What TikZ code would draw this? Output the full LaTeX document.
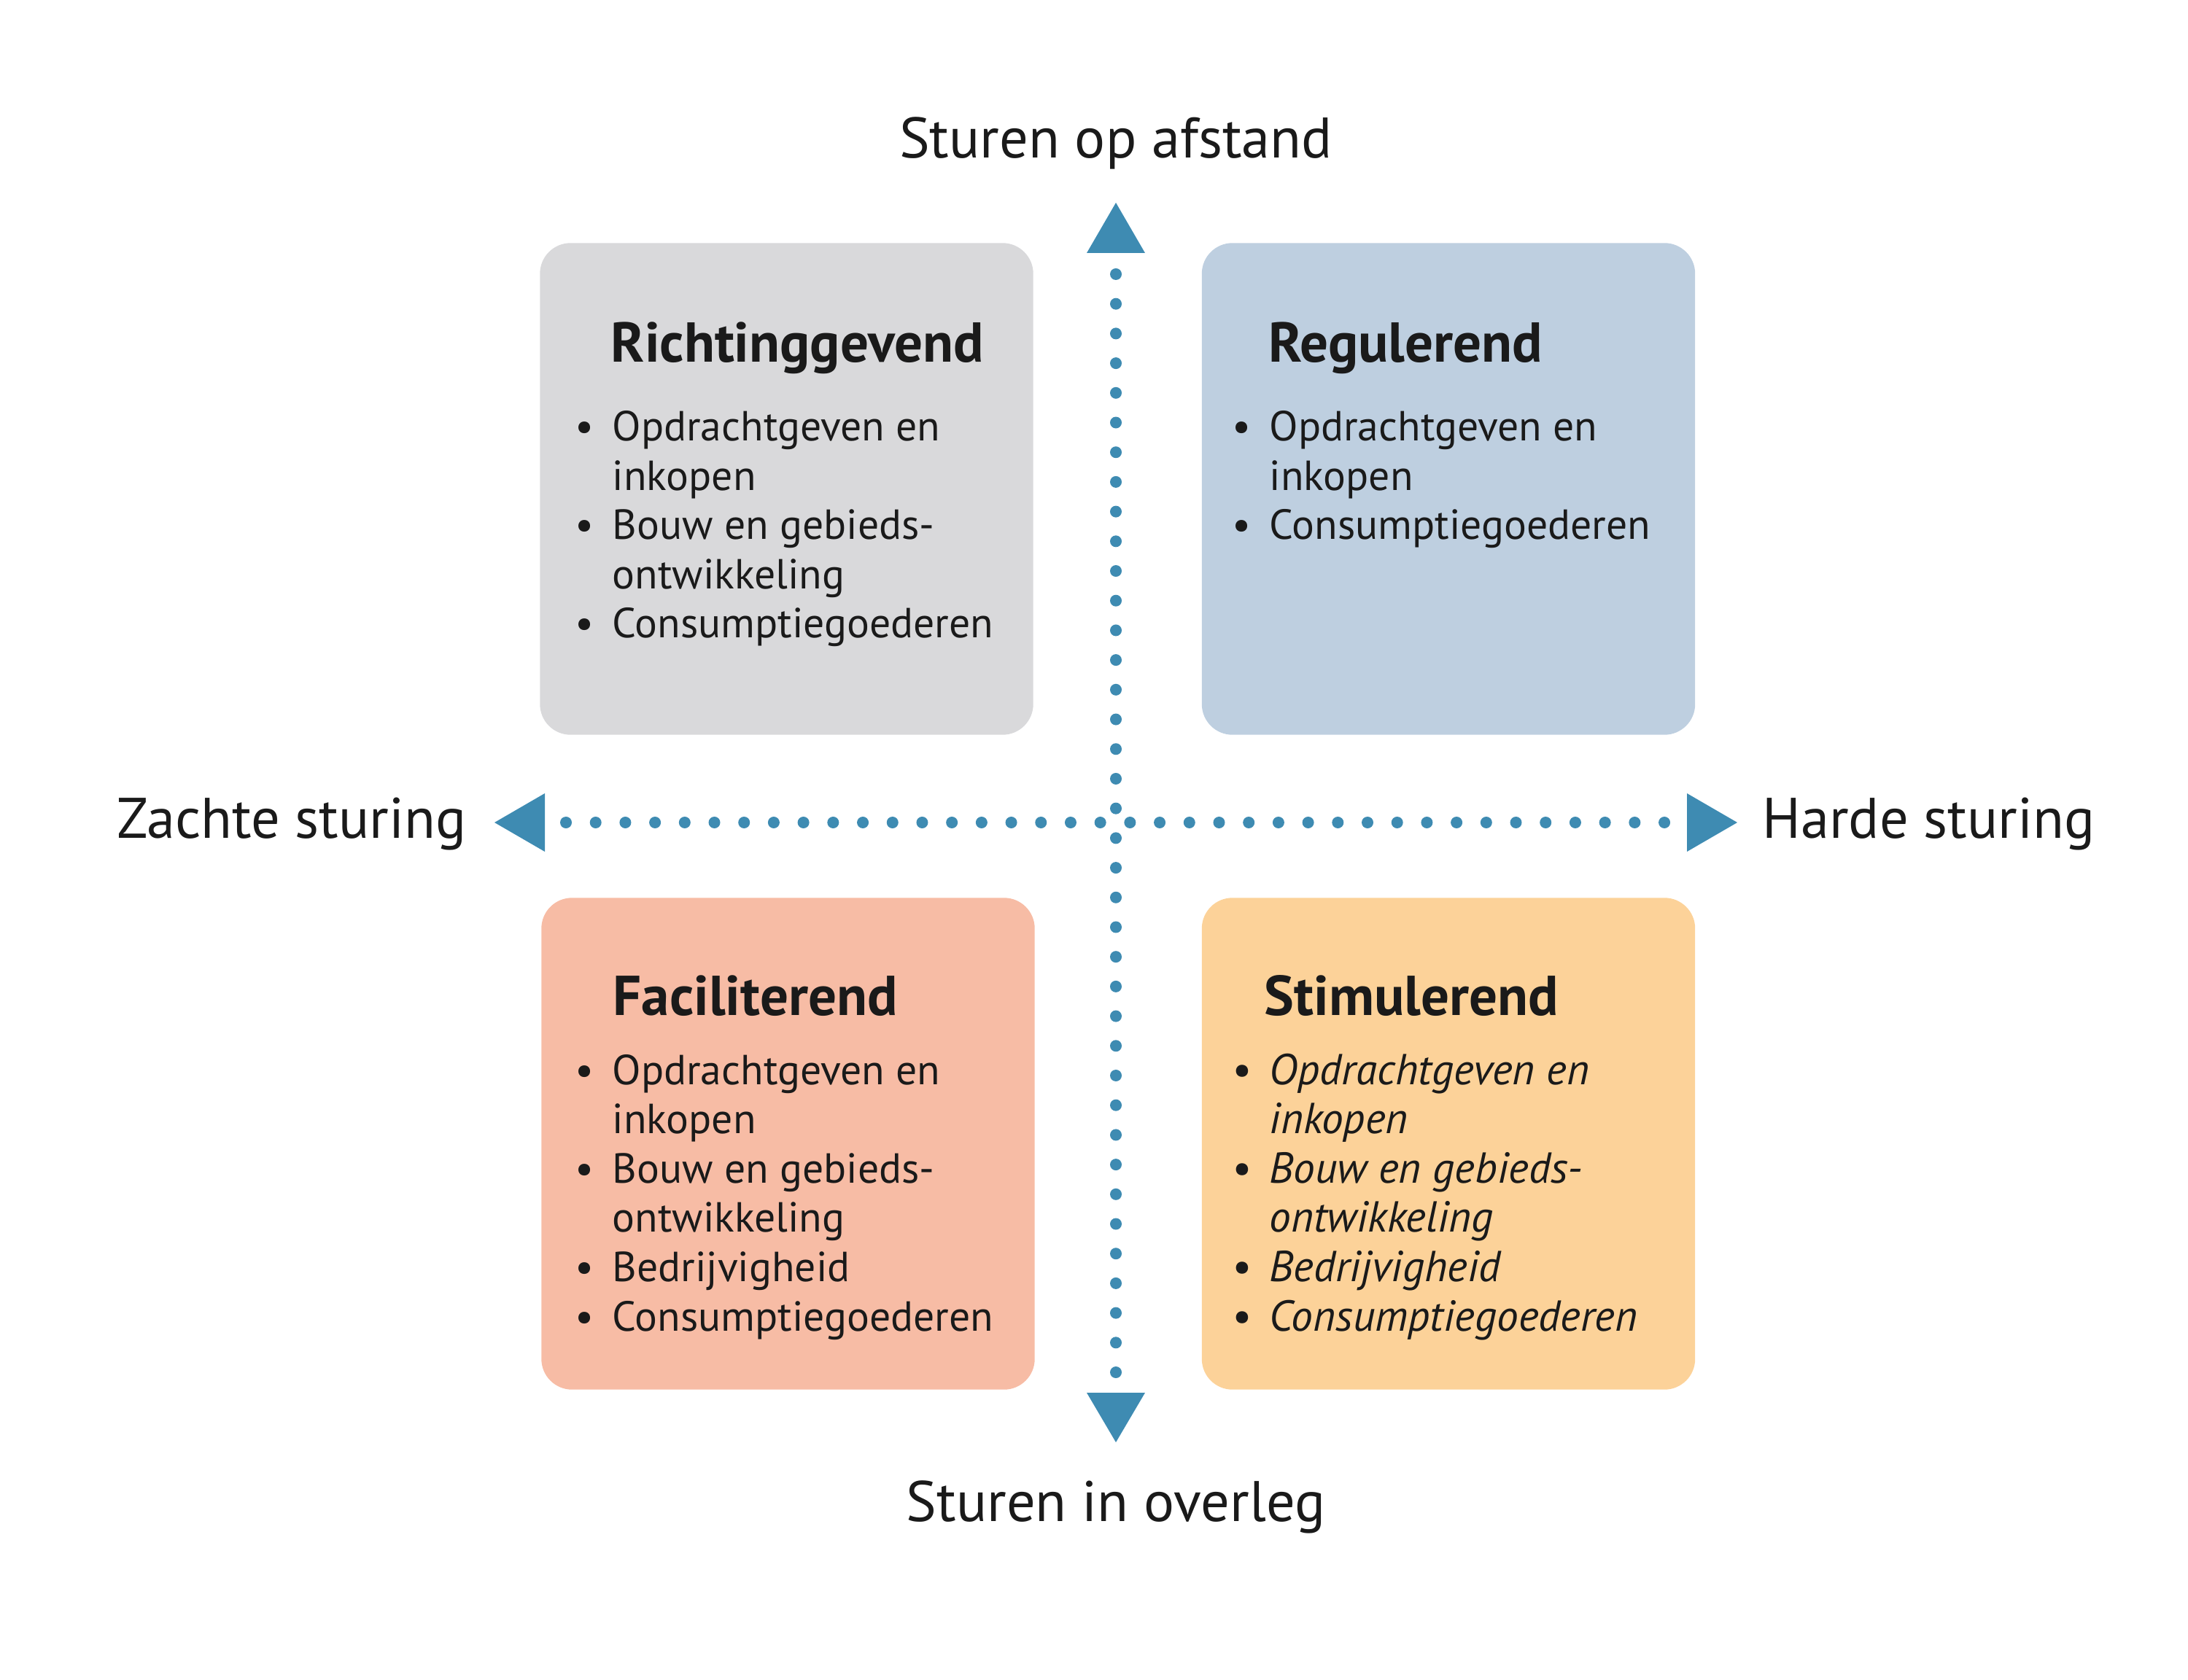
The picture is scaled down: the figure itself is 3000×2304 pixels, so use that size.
\documentclass[tikz,border=0pt]{standalone}
\usepackage{fontspec}
\setmainfont{PT Sans}
\usetikzlibrary{calc}
\definecolor{axisblue}{RGB}{62,139,178}
\definecolor{boxgray}{RGB}{217,217,219}
\definecolor{boxblue}{RGB}{190,207,224}
\definecolor{boxsalmon}{RGB}{247,188,165}
\definecolor{boxorange}{RGB}{252,210,153}
\definecolor{inkdark}{RGB}{26,26,26}
\newcommand\bul{\makebox[0pt][r]{\textbullet\hspace{0.25cm}}}
\begin{document}
\begin{tikzpicture}[x=0.01cm,y=-0.01cm,
  quad/.style={rectangle, rounded corners=0.42cm, minimum width=6.76cm, minimum height=6.74cm, inner sep=0pt, draw=none},
  quadtitle/.style={anchor=base west, inner sep=0pt, text=inkdark, font=\fontsize{21.9}{26}\selectfont\bfseries},
  quadlist/.style={anchor=base west, inner sep=0pt, text=inkdark, align=left, font=\fontsize{16.4}{19.2}\selectfont},
  axislabel/.style={inner sep=0pt, text=inkdark, font=\fontsize{22.3}{26}\selectfont},
  dotline/.style={draw=axisblue, line width=0.16cm, line cap=round, dash pattern=on 0pt off 0.4068cm},
  tip/.style={fill=axisblue, draw=none}
]
\useasboundingbox (0,0) rectangle (3000,2304);

% quadrants
\node[quad, fill=boxgray]   (rg) at (1078.5,670.5) {};
\node[quad, fill=boxblue]   (re) at (1986,670.5) {};
\node[quad, fill=boxsalmon] (fa) at (1080.5,1568.5) {};
\node[quad, fill=boxorange] (st) at (1986,1568.5) {};

% axes
\coordinate (vt) at (1530,376);
\coordinate (vb) at (1530,1885);
\coordinate (hl) at (776,1128);
\coordinate (hr) at (2288,1128);
\draw[dotline] (vt) -- (vb);
\draw[dotline] (hl) -- (hr);
\fill[tip] (1530,278) -- (1570,347) -- (1490,347) -- cycle;
\fill[tip] (1530,1978) -- (1570,1910) -- (1490,1910) -- cycle;
\fill[tip] (678,1128) -- (747,1088) -- (747,1168) -- cycle;
\fill[tip] (2382,1128) -- (2313,1088) -- (2313,1168) -- cycle;

% axis labels
\node[axislabel, anchor=base] (lbltop) at (1530,217) {Sturen op afstand};
\node[axislabel, anchor=base] (lblbot) at (1530,2086) {Sturen in overleg};
\node[axislabel, anchor=base east] (lblleft) at (640,1149) {Zachte sturing};
\node[axislabel, anchor=base west] (lblright) at (2416,1149) {Harde sturing};

% quadrant texts (list nodes anchored at the baseline of their last line)
\node[quadtitle] (rgt) at (837,497) {Richtinggevend};
\node[quadlist] (rgl) at (839,875) {\bul Opdrachtgeven en\\inkopen\\\bul Bouw en gebieds-\\ontwikkeling\\\bul Consumptiegoederen};

\node[quadtitle] (ret) at (1739,497) {Regulerend};
\node[quadlist] (rel) at (1740,740) {\bul Opdrachtgeven en\\inkopen\\\bul Consumptiegoederen};

\node[quadtitle] (fat) at (840,1392) {Faciliterend};
\node[quadlist] (fal) at (839,1825) {\bul Opdrachtgeven en\\inkopen\\\bul Bouw en gebieds-\\ontwikkeling\\\bul Bedrijvigheid\\\bul Consumptiegoederen};

\node[quadtitle] (stt) at (1733,1392) {Stimulerend};
\node[quadlist, font=\fontsize{16.9}{19.2}\selectfont\itshape] (stl) at (1740,1825) {\bul Opdrachtgeven en\\inkopen\\\bul Bouw en gebieds-\\ontwikkeling\\\bul Bedrijvigheid\\\bul Consumptiegoederen};
\end{tikzpicture}
\end{document}
